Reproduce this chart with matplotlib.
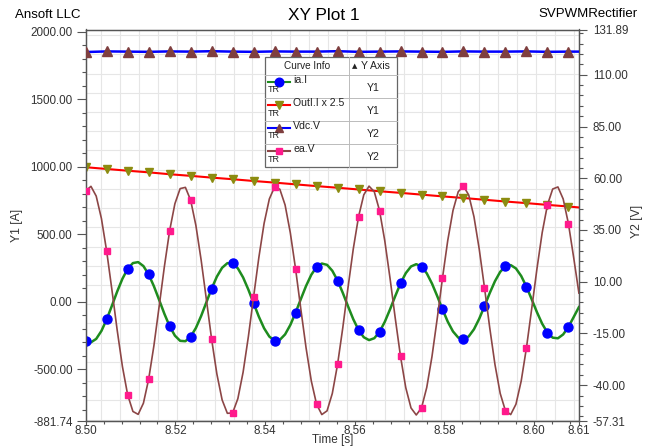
import numpy as np
import matplotlib
matplotlib.use('Agg')
import matplotlib.pyplot as plt
from matplotlib.ticker import MultipleLocator, FixedLocator, FormatStrFormatter
from matplotlib.patches import Rectangle

plt.rcParams['font.family'] = ['Liberation Sans', 'DejaVu Sans']

# ---------------- data ----------------
time_start = 8.50
time_step = 0.00117
n_points = 95
time = time_start + time_step * np.arange(n_points)
marker_step = 4

ia_I = [-287.5, -299.1, -273.6, -214.4, -128.8, -27.5, 77.1, 171.9, 245.1, 288.0,
        295.2, 265.8, 203.6, 116.4, 15.0, -88.1, -180.0, -249.5, -288.0, -290.7,
        -257.6, -192.7, -104.0, -2.7, 98.7, 187.7, 253.3, 287.4, 285.9, 249.0,
        181.5, 91.6, -9.3, -109.0, -194.9, -256.5, -286.3, -280.6, -240.3, -170.3,
        -79.4, 21.1, 118.8, 201.6, 259.2, 284.6, 274.9, 231.1, 158.9, 67.2,
        -32.6, -128.2, -207.6, -261.4, -282.6, -268.7, -221.7, -147.5, -55.1, 43.9,
        137.2, 213.3, 262.9, 279.9, 262.2, 212.2, 136.0, 43.2, -54.8, -145.8,
        -218.4, -263.9, -276.8, -255.3, -202.3, -124.5, -31.4, 65.4, 153.8, 223.1,
        264.5, 273.2, 248.1, 192.4, 113.0, 19.8, -75.6, -161.4, -227.1, -264.5,
        -269.2, -240.5, -185.0, -112.0, -38.0]

ea_V = [53.9, 56.1, 51.4, 40.5, 24.7, 6.0, -13.4, -31.0, -44.7, -52.7,
        -54.1, -48.7, -37.1, -20.9, -1.9, 17.4, 34.7, 47.7, 55.0, 55.6,
        49.4, 37.2, 20.5, 1.4, -17.8, -34.6, -47.1, -53.6, -53.4, -46.5,
        -33.7, -16.6, 2.7, 21.7, 38.2, 50.0, 55.8, 54.7, 47.1, 33.6,
        16.2, -3.2, -22.0, -38.0, -49.2, -54.2, -52.4, -44.0, -30.0, -12.2,
        7.3, 25.9, 41.4, 52.0, 56.2, 53.5, 44.4, 29.8, 11.7, -7.7,
        -26.1, -41.2, -51.0, -54.4, -51.0, -41.1, -26.1, -7.7, 11.8, 29.9,
        44.4, 53.5, 56.2, 51.9, 41.4, 25.8, 7.2, -12.2, -30.0, -44.0,
        -52.4, -54.2, -49.2, -38.0, -22.0, -3.1, 16.2, 33.7, 47.1, 54.8,
        55.8, 50.0, 38.1, 21.7, 4.5]

time_coarse = np.append(time[::marker_step], time[-1])
outl_I = [998, 985, 972, 960, 946, 934, 921, 909, 896, 884, 871, 858, 846,
          833, 820, 808, 795, 782, 770, 757, 744, 732, 719, 707, 700]
vdc_V = [121.0, 121.3, 121.2, 121.1, 121.3, 121.2, 121.4, 121.2, 121.1, 121.3,
         121.2, 121.2, 121.4, 121.1, 121.2, 121.3, 121.2, 121.1, 121.3, 121.2,
         121.2, 121.3, 121.1, 121.2, 121.2]

series_names = ['ia.I', 'OutI.I x 2.5', 'Vdc.V', 'ea.V']
series_axes = ['Y1', 'Y1', 'Y2', 'Y2']

x_ticks = [8.50, 8.52, 8.54, 8.56, 8.58, 8.60, 8.61]
y1_ticks = [-881.74, -500.0, 0.0, 500.0, 1000.0, 1500.0, 2000.0]
y2_ticks = [-57.31, -40.0, -15.0, 10.0, 35.0, 60.0, 85.0, 110.0, 131.89]
x_lim = (8.50, 8.61)
y1_lim = (-881.74, 2018.0)
y2_lim = (-57.31, 131.89)

# ---------------- styles ----------------
styles = [
    dict(color='#1E8C1E', lw=1.8, marker='o', ms=6.5, mfc='#0000FF', mec='#0000FF'),
    dict(color='#FF0000', lw=1.5, marker='v', ms=6.0, mfc='#8C8C10', mec='#8C8C10'),
    dict(color='#0000FF', lw=1.8, marker='^', ms=6.5, mfc='#7F3F3F', mec='#7F3F3F'),
    dict(color='#8C4646', lw=1.2, marker='s', ms=4.2, mfc='#FF1A8C', mec='#FF1A8C'),
]

W, H = 650, 447
fig = plt.figure(figsize=(W / 100, H / 100), dpi=100)
L, R, T, B = 85.7, 579.0, 29.5, 421.0
pos = [L / W, 1 - B / H, (R - L) / W, (B - T) / H]

# background grid (independent fine grid)
ax_bg = fig.add_axes(pos)
ax_bg.set_xlim(0, 1)
ax_bg.set_ylim(0, 1)
ax_bg.set_xticks(np.arange(0.0316, 1.0, 0.0383))
ax_bg.set_yticks(np.arange(0.0036, 1.0, 0.0491))
ax_bg.grid(True, color='#E6E6E6', lw=0.8)
ax_bg.tick_params(length=0, labelbottom=False, labelleft=False)
for s in ax_bg.spines.values():
    s.set_visible(False)

ax1 = fig.add_axes(pos, facecolor='none')
ax1.plot(time, ia_I, markevery=marker_step, zorder=3, **styles[0])
ax1.plot(time_coarse, outl_I, markevery=slice(0, len(outl_I) - 1), zorder=3, **styles[1])
ax1.set_xlim(*x_lim)
ax1.set_ylim(*y1_lim)

ax2 = ax1.twinx()
ax2.plot(time_coarse, vdc_V, markevery=slice(0, len(vdc_V) - 1), zorder=3, **styles[2])
ax2.plot(time, ea_V, markevery=marker_step, zorder=3, **styles[3])
ax2.set_ylim(*y2_lim)

tick_color = '#333333'
spine_color = '#555555'
for ax in (ax1, ax2):
    for s in ax.spines.values():
        s.set_color(spine_color)
        s.set_linewidth(0.9)

ax1.xaxis.set_major_locator(FixedLocator(x_ticks))
ax1.xaxis.set_minor_locator(MultipleLocator(0.004))
ax1.xaxis.set_major_formatter(FormatStrFormatter('%.2f'))
ax1.yaxis.set_major_locator(FixedLocator(y1_ticks))
ax1.yaxis.set_minor_locator(MultipleLocator(100))
ax1.yaxis.set_major_formatter(FormatStrFormatter('%.2f'))
ax2.yaxis.set_major_locator(FixedLocator(y2_ticks))
ax2.yaxis.set_minor_locator(MultipleLocator(5))
ax2.yaxis.set_major_formatter(FormatStrFormatter('%.2f'))

ax1.tick_params(axis='y', which='major', length=6.5, width=0.8, pad=3,
                labelsize=8.4, color=spine_color, labelcolor=tick_color)
ax1.tick_params(axis='y', which='minor', length=3.2, width=0.8, color=spine_color)
ax1.tick_params(axis='x', which='major', length=2.6, width=0.8, pad=0.3,
                labelsize=8.4, color=spine_color, labelcolor=tick_color)
ax1.tick_params(axis='x', which='minor', length=1.8, width=0.8, color=spine_color)
ax2.tick_params(axis='y', which='major', length=6, width=0.8, pad=4,
                labelsize=8.4, color=spine_color, labelcolor=tick_color)
ax2.tick_params(axis='y', which='minor', length=3, width=0.8, color=spine_color)

ax1.set_xlabel('Time [s]', fontsize=8.5, color=tick_color)
ax1.xaxis.label.set_verticalalignment('center')
ax1.xaxis.set_label_coords(0.5, -(440.5 - B) / (B - T))
ax1.set_ylabel('Y1 [A]', fontsize=8.8, color=tick_color)
ax1.yaxis.set_label_coords((22.5 - L) / (R - L), 0.5)
ax2.set_ylabel('Y2 [V]', fontsize=8.8, color=tick_color, rotation=90)
ax2.yaxis.set_label_coords((637 - L) / (R - L), 0.51)
ax2.yaxis.label.set_verticalalignment('center')

fig.text(15 / W, 1 - 15 / H, 'Ansoft LLC', fontsize=9.5, ha='left', va='center')
fig.text(324 / W, 1 - 15 / H, 'XY Plot 1', fontsize=12.4, ha='center', va='center')
fig.text(638 / W, 1 - 14 / H, 'SVPWMRectifier', fontsize=9.5, ha='right', va='center')

# ---------------- curve info table ----------------
lx0, ly0, lw_, lh_ = 265, 57, 132, 110
ax_leg = fig.add_axes([lx0 / W, 1 - (ly0 + lh_) / H, lw_ / W, lh_ / H])
ax_leg.set_xlim(0, lw_)
ax_leg.set_ylim(lh_, 0)
ax_leg.axis('off')
ax_leg.add_patch(Rectangle((0, 0), lw_, lh_, fc='white', ec='#666666', lw=0.9, clip_on=False))
header_h = 18
row_h = (lh_ - header_h) / 4
col_x = 84
for r in range(4):
    yy = header_h + r * row_h
    ax_leg.plot([0, lw_], [yy, yy], color='#BBBBBB', lw=0.7, clip_on=False)
ax_leg.plot([col_x, col_x], [0, lh_], color='#BBBBBB', lw=0.7, clip_on=False)
ax_leg.text(42, 9.5, 'Curve Info', fontsize=7.2, ha='center', va='center', color='#222222')
ax_leg.text(90, 9.5, '▲', fontsize=5, ha='center', va='center', color='#222222',
            family=['DejaVu Sans'])
ax_leg.text(96, 9.5, 'Y Axis', fontsize=7.6, ha='left', va='center', color='#222222')
for r, (name, yax, st) in enumerate(zip(series_names, series_axes, styles)):
    top = header_h + r * row_h
    ax_leg.plot([3, 25], [top + 7, top + 7], color=st['color'], lw=1.5, clip_on=False)
    ax_leg.plot([14], [top + 7], marker=st['marker'], ms=st['ms'] * 0.95,
                mfc=st['mfc'], mec=st['mec'], ls='none', clip_on=False)
    ax_leg.text(3, top + 15, 'TR', fontsize=6.5, ha='left', va='center', color='#222222')
    ax_leg.text(28, top + 5, name, fontsize=7.6, ha='left', va='center', color='#222222')
    ax_leg.text(108, top + 13, yax, fontsize=7.6, ha='center', va='center', color='#222222')

fig.savefig('out.png', dpi=100)
